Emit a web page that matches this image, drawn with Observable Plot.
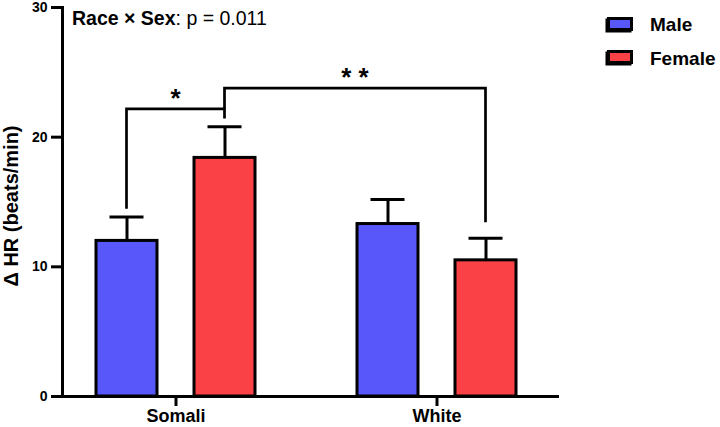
<!DOCTYPE html>
<html><head><meta charset="utf-8">
<script src="https://cdn.jsdelivr.net/npm/d3@7"></script>
<script src="https://cdn.jsdelivr.net/npm/@observablehq/plot@0.6"></script>
<style>
html,body{margin:0;padding:0;background:#fff;}
#wrap{position:relative;width:720px;height:427px;font-family:"Liberation Sans",Arial,sans-serif;overflow:hidden;color:#000}
#wrap svg{position:absolute;left:0;top:0}
#title{position:absolute;left:72px;top:9.2px;font-size:19.5px;line-height:1;white-space:nowrap}
.sw{position:absolute;left:607px;width:20px;height:8px;border:3px solid #000;box-shadow:-1.5px 1.5px 0 #000}
.lt{position:absolute;left:650px;font-size:19px;font-weight:bold;line-height:1;white-space:nowrap}
g[aria-label="y-label"] text{letter-spacing:0.9px}
</style></head><body><div id="wrap"></div>
<script>
// ---- data ----
const races = ["Somali", "White"];
const sexes = ["Male", "Female"];
const sexColors = ["#5757fa", "#fa4145"];
const meanSomali = [12.0, 18.4];   // Male, Female
const meanWhite = [13.3, 10.5];
const semSomali = [1.85, 2.4];
const semWhite = [1.9, 1.7];
const yTicks = [0, 10, 20, 30];
const yLabel = "Δ HR (beats/min)";
const titleBold = "Race × Sex";
const titleRest = ": p = 0.011";

// significance brackets
const bracketLabels = ["*", "**"];
const bracketStart = [["Somali", "Male"], ["Somali", "Female"]];
const bracketEnd = [["Somali", "Female"], ["White", "Female"]];
const bracketLevel = [22.15, 23.75];
const bracketStartFoot = [14.45, 22.15];
const bracketEndFoot = [21.4, 13.4];

// ---- tables ----
const means = {Somali: meanSomali, White: meanWhite};
const sems = {Somali: semSomali, White: semWhite};
const rows = races.flatMap(r => sexes.map((s, i) => ({race: r, sex: s, mean: means[r][i], sem: sems[r][i]})));
const brackets = bracketLabels.map((label, i) => ({
  label, startRace: bracketStart[i][0], startSex: bracketStart[i][1],
  endRace: bracketEnd[i][0], endSex: bracketEnd[i][1],
  level: bracketLevel[i], startFoot: bracketStartFoot[i], endFoot: bracketEndFoot[i]
}));

const font = "'Liberation Sans', Arial, sans-serif";

const chart = Plot.plot({
  width: 720, height: 427,
  marginLeft: 62, marginRight: 170, marginTop: 7, marginBottom: 31,
  style: {fontFamily: font, background: "transparent", overflow: "visible"},
  fx: {domain: races, paddingInner: 0.131, paddingOuter: 0, label: null},
  x: {domain: sexes, paddingInner: 0.378, paddingOuter: 0.347, axis: null},
  y: {domain: [0, 30], axis: null},
  color: {domain: sexes, range: sexColors},
  marks: [
    Plot.ruleX(rows, {fx: "race", x: "sex", y1: "mean", y2: d => d.mean + d.sem, stroke: "black", strokeWidth: 3}),
    Plot.tickY(rows, {fx: "race", x: "sex", y: d => d.mean + d.sem, stroke: "black", strokeWidth: 3, inset: 13.5}),
    Plot.barY(rows, {fx: "race", x: "sex", y: "mean", fill: "sex", stroke: "black", strokeWidth: 3}),
    Plot.frame({facet: "super", anchor: "left", stroke: "black", strokeWidth: 3}),
    Plot.frame({facet: "super", anchor: "bottom", stroke: "black", strokeWidth: 3, insetLeft: -1.5, insetRight: -7}),
    Plot.axisY({ticks: yTicks, tickSize: 11, tickPadding: 4, fontSize: 14, fontWeight: "bold", strokeWidth: 3, label: null}),
    Plot.axisFx({anchor: "bottom", tickSize: 10, tickPadding: 3, fontSize: 18, fontWeight: "bold", strokeWidth: 3, label: null}),
    Plot.text([yLabel], {facet: "super", ariaLabel: "y-label", frameAnchor: "left", text: d => d, rotate: -90, dx: -51, dy: 4, fontSize: 20, fontWeight: "bold", textAnchor: "middle", lineAnchor: "middle"}),
    Plot.frame({
      facet: "super",
      render(index, scales, values, dimensions) {
        const {fx, x, y} = scales;
        const x0 = x.range()[0];
        const bw = x.bandwidth();
        const cx = (race, sex) => fx(race) + x(sex) - x0 + bw / 2;
        const g = d3.create("svg:g");
        for (const b of brackets) {
          const xa = cx(b.startRace, b.startSex), xb = cx(b.endRace, b.endSex);
          g.append("path")
            .attr("fill", "none").attr("stroke", "black").attr("stroke-width", 2.7)
            .attr("stroke-linejoin", "miter")
            .attr("d", `M${xa},${y(b.startFoot)}V${y(b.level)}H${xb}V${y(b.endFoot)}`);
          g.append("text")
            .attr("x", (xa + xb) / 2).attr("y", y(b.level) - 2)
            .attr("text-anchor", "middle").attr("font-size", 26).attr("font-weight", "bold")
            .attr("font-family", font).attr("fill", "black")
            .text(b.label.split("").join(" "));
        }
        return g.node();
      }
    })
  ]
});

const wrap = document.getElementById("wrap");
wrap.appendChild(chart);

const title = document.createElement("div");
title.id = "title";
const tb = document.createElement("b");
tb.textContent = titleBold;
title.appendChild(tb);
title.appendChild(document.createTextNode(titleRest));
wrap.appendChild(title);

const swTops = [17, 50];
const txtTops = [15, 49];
sexes.forEach((s, i) => {
  const sw = document.createElement("div");
  sw.className = "sw";
  sw.style.top = swTops[i] + "px";
  sw.style.background = sexColors[i];
  wrap.appendChild(sw);
  const t = document.createElement("div");
  t.className = "lt";
  t.style.top = txtTops[i] + "px";
  t.textContent = s;
  wrap.appendChild(t);
});
</script></body></html>
